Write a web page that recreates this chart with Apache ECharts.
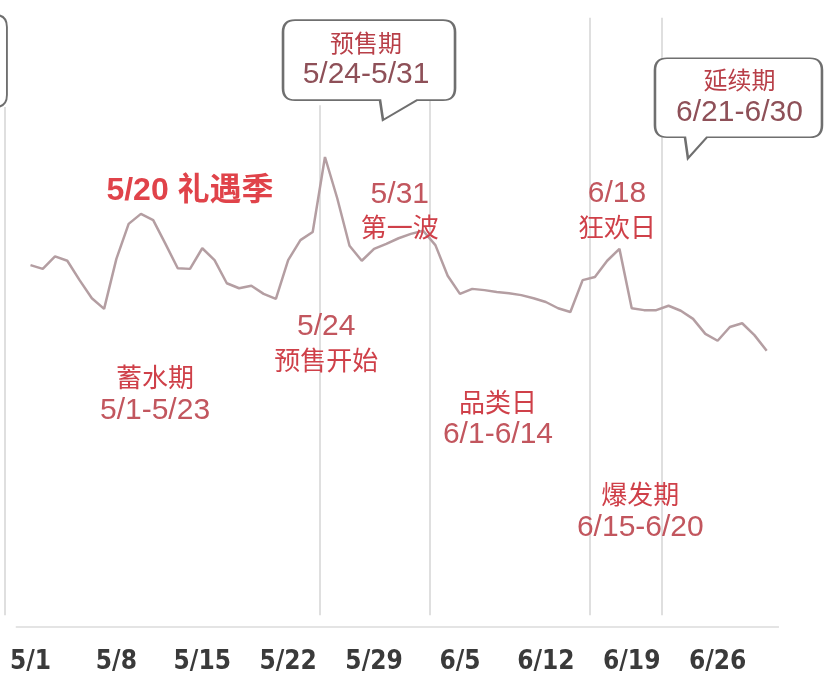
<!DOCTYPE html>
<html>
<head>
<meta charset="utf-8">
<script src="https://cdn.jsdelivr.net/npm/echarts@6/dist/echarts.min.js"></script>
<style>
  html, body { margin: 0; padding: 0; background: #ffffff; }
  #chart { width: 824px; height: 675px; }
</style>
</head>
<body>
<div id="chart"></div>
<script>
// Axis tick labels, one per week starting 5/1 (day 0)
const tickLabels = ['5/1', '5/8', '5/15', '5/22', '5/29', '6/5', '6/12', '6/19', '6/26'];

// Daily index, 5/1 … 6/30 (61 days)
const dailyIndex = [
  57.9, 57.3, 59.3, 58.6, 55.5, 52.6, 50.9, 58.9, 64.5, 66.1,
  65.1, 61.3, 57.4, 57.3, 60.6, 58.7, 55.0, 54.2, 54.6, 53.3,
  52.5, 58.7, 61.9, 63.2, 75.2, 68.6, 61.0, 58.6, 60.5, 61.3,
  62.2, 62.9, 63.4, 61.1, 56.2, 53.3, 54.1, 53.9, 53.6, 53.4,
  53.1, 52.6, 52.0, 51.0, 50.4, 55.5, 56.0, 58.6, 60.5, 51.0,
  50.7, 50.7, 51.4, 50.6, 49.3, 46.9, 45.8, 48.0, 48.6, 46.7,
  44.2
];

// Campaign phases and their date ranges
const phases = ['蓄水期', '预售期', '品类日', '爆发期', '延续期'];
const phaseRanges = ['5/1-5/23', '5/24-5/31', '6/1-6/14', '6/15-6/20', '6/21-6/30'];

// Key events
const headline = '5/20 礼遇季';
const eventDates = ['5/24', '5/31', '6/18'];
const eventNames = ['预售开始', '第一波', '狂欢日'];

// ---------------------------------------------------------------------------
const FONT = '"Liberation Sans", "Noto Sans CJK SC", sans-serif';
const CN_FONT = '"Noto Sans CJK SC", sans-serif';

const textRich = {
  cn:  { fontFamily: CN_FONT, fontSize: 26, color: '#cf4049', lineHeight: 33 },
  num: { fontFamily: FONT, fontSize: 30, color: '#c2565e', lineHeight: 33 }
};
const boxRich = {
  cn:  { fontFamily: CN_FONT, fontSize: 24, color: '#b83f48', lineHeight: 32 },
  num: { fontFamily: FONT, fontSize: 30, color: '#8e5058', lineHeight: 32 }
};

// A text-only annotation anchored at a (day, value) position
function note(day, value, formatter, rich) {
  return {
    coord: [day, value],
    symbol: 'circle',
    symbolSize: 1,
    itemStyle: { color: 'rgba(0,0,0,0)' },
    label: { show: true, position: 'inside', formatter: formatter, rich: rich || textRich }
  };
}

// A speech bubble anchored at a (day, value) position
function bubble(day, value, path, size, formatter, offset) {
  return {
    coord: [day, value],
    symbol: 'path://' + path,
    symbolSize: size,
    itemStyle: { color: '#ffffff', borderColor: '#6f6f6f', borderWidth: 2 },
    label: {
      show: !!formatter, position: 'inside', offset: offset || [0, 0],
      formatter: formatter || '', rich: boxRich
    }
  };
}

const twoLine = (a, b, ra, rb) => '{' + ra + '|' + a + '}\n{' + rb + '|' + b + '}';

// Phase boundary lines (days since 5/1) with their upper ends
const boundaryDays = [-2.08, 23.6, 32.56, 45.6, 51.47];
const boundaryTops = [83.2, 83.5, 93.2, 97.5, 97.5];

const chart = echarts.init(document.getElementById('chart'), null, { renderer: 'canvas' });

chart.setOption({
  animation: false,
  backgroundColor: '#ffffff',
  grid: {
    left: -55.4, right: 20.5, top: 2, bottom: 48,
    containLabel: false, outerBoundsMode: 'none'
  },
  xAxis: {
    type: 'value',
    min: -7,
    max: 63,
    interval: 7,
    axisLine: { show: false },
    axisTick: { show: false },
    splitLine: { show: false },
    axisLabel: {
      margin: 22,
      fontFamily: '"DejaVu Sans Condensed", "DejaVu Sans", sans-serif',
      fontSize: 26,
      fontWeight: 'bold',
      color: '#3a3a3a',
      showMinLabel: true,
      showMaxLabel: true,
      formatter: function (v) {
        const k = v / 7;
        return (v >= 0 && Number.isInteger(k) && k < tickLabels.length) ? tickLabels[k] : '';
      }
    }
  },
  yAxis: {
    type: 'value',
    min: 0,
    max: 100,
    show: false
  },
  series: [{
    type: 'line',
    data: dailyIndex.map((v, i) => [i, v]),
    symbol: 'none',
    lineStyle: { color: '#b49ea2', width: 2.5 },
    z: 4,
    markLine: {
      silent: true,
      symbol: ['none', 'none'],
      label: { show: false },
      z: 3,
      lineStyle: { color: '#d4d4d4', width: 1.5, type: 'solid' },
      data: boundaryDays.map((d, i) => [
        { coord: [d, 1.9] },
        { coord: [d, boundaryTops[i]] }
      ]).concat([[
        { coord: [-1.2, 0], lineStyle: { color: '#e4e4e4', width: 2, type: 'solid' } },
        { coord: [61, 0] }
      ]])
    },
    markPoint: {
      silent: true,
      z: 6,
      data: [
        // bubble at the left edge (mostly off canvas)
        bubble(-5.18, 90.56, 'M12,0H68Q80,0 80,12V80Q80,92 68,92H12Q0,92 0,80V12Q0,0 12,0Z', [80, 92]),
        // presale bubble
        bubble(27.59, 89.1,
          'M12,0H160Q172,0 172,12V68Q172,80 160,80H134L100,100L97,80H12Q0,80 0,68V12Q0,0 12,0Z',
          [172, 100], twoLine(phases[1], phaseRanges[1], 'cn', 'num'), [-3, -11]),
        // follow-up bubble
        bubble(57.7, 83.0,
          'M12,0H155Q167,0 167,12V67Q167,79 155,79H52L33,100L30,79H12Q0,79 0,67V12Q0,0 12,0Z',
          [167, 100], twoLine(phases[4], phaseRanges[4], 'cn', 'num'), [1, -12]),
        // headline
        {
          coord: [13.0, 69.8], symbol: 'circle', symbolSize: 1,
          itemStyle: { color: 'rgba(0,0,0,0)' },
          label: {
            show: true, position: 'inside', formatter: headline,
            fontFamily: FONT + ', ' + CN_FONT, fontSize: 32, fontWeight: 'bold', color: '#e0434a'
          }
        },
        // events
        note(24.1, 45.4, twoLine(eventDates[0], eventNames[0], 'num', 'cn')),
        note(30.1, 66.6, twoLine(eventDates[1], eventNames[1], 'num', 'cn')),
        note(47.8, 66.7, twoLine(eventDates[2], eventNames[2], 'num', 'cn')),
        // phase captions
        note(10.15, 37.3, twoLine(phases[0], phaseRanges[0], 'cn', 'num')),
        note(38.1, 33.4, twoLine(phases[2], phaseRanges[2], 'cn', 'num')),
        note(49.7, 18.6, twoLine(phases[3], phaseRanges[3], 'cn', 'num'))
      ]
    }
  }]
});
</script>
</body>
</html>
